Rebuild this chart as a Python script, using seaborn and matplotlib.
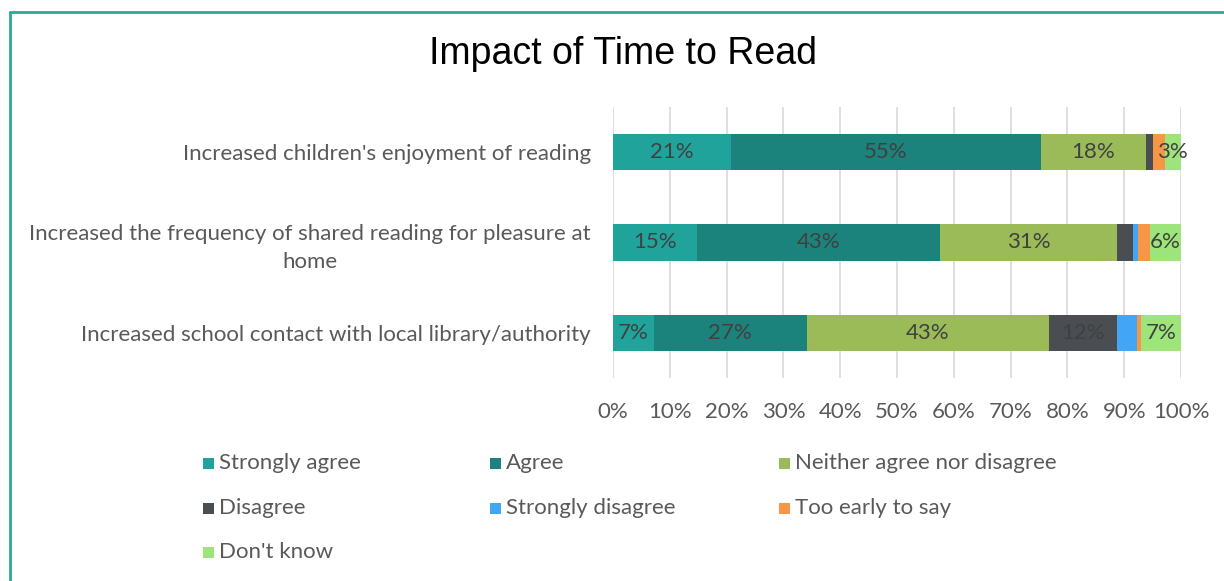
import numpy as np
import pandas as pd
import matplotlib
matplotlib.use("Agg")
import matplotlib.pyplot as plt
import seaborn as sns
from matplotlib.patches import Rectangle
from matplotlib.lines import Line2D

# survey statements (top to bottom)
statements = [
    "Increased children's enjoyment of reading",
    "Increased the frequency of shared reading for pleasure at\nhome",
    "Increased school contact with local library/authority",
]
responses = ["Strongly agree", "Agree", "Neither agree nor disagree", "Disagree",
             "Strongly disagree", "Too early to say", "Don't know"]

# percentages, one list per response
strongly_agree = [20.7, 14.8, 7.2]
agree = [54.6, 42.7, 26.9]
neither = [18.5, 31.3, 42.6]
disagree = [1.2, 2.8, 12.1]
strongly_disagree = [0.0, 0.8, 3.5]
too_early = [2.1, 2.1, 0.7]
dont_know = [2.9, 5.5, 7.0]

colors = ["#1fa39b", "#1b827c", "#9bbb59", "#4a4e53", "#42a5f5", "#f79646", "#9de47b"]
# which responses get a value label
labelled = ["Strongly agree", "Agree", "Neither agree nor disagree", "Disagree", "Don't know"]

series = [strongly_agree, agree, neither, disagree, strongly_disagree, too_early, dont_know]
df = pd.DataFrame(dict(zip(responses, series)), index=statements)
cum = df.cumsum(axis=1)

sns.set_theme(style="white")
plt.rcParams['font.family'] = ['Lato', 'DejaVu Sans']
text_col = "#595959"
fs = 16

fig = plt.figure(figsize=(12.24, 5.81), dpi=100)
ax = fig.add_axes([613 / 1224, 1 - 378 / 581, (1181 - 613) / 1224, (378 - 107) / 581])

# stacked bars: draw cumulative totals from the last response backwards
for resp, col in reversed(list(zip(responses, colors))):
    d = pd.DataFrame({"statement": statements, "value": cum[resp].values})
    sns.barplot(data=d, x="value", y="statement", orient="h", color=col,
                width=0.4, saturation=1, ax=ax, linewidth=0, zorder=2)

# value labels in the middle of each segment
for i, st in enumerate(statements):
    for resp in responses:
        v = df.loc[st, resp]
        if resp not in labelled:
            continue
        if resp != "Don't know" and v < 5:
            continue
        centre = cum.loc[st, resp] - v / 2
        ax.text(centre, i, f"{v:.0f}%", ha="center", va="center",
                fontsize=fs, color="#404040", zorder=3)

ax.set_xlim(0, 100)
ax.set_ylim(2.5, -0.5)
ax.set_xticks(np.arange(0, 101, 10))
ax.set_xticklabels([f"{t}%" for t in range(0, 101, 10)])
ax.grid(axis="x", color="#d9d9d9", linewidth=1.2, zorder=0)
ax.set_axisbelow(True)
for s in ax.spines.values():
    s.set_visible(False)
ax.tick_params(axis="x", length=0, pad=17, labelsize=fs, labelcolor=text_col)
ax.tick_params(axis="y", length=0, pad=16, labelsize=fs, labelcolor=text_col)
for lab in ax.get_yticklabels():
    lab.set_multialignment("center")
    lab.set_linespacing(1.45)
ax.set_xlabel("")
ax.set_ylabel("")

fig.text(623 / 1224, 1 - 54 / 581, "Impact of Time to Read", ha="center", va="center",
         fontsize=27, color="black", family=["Liberation Sans", "DejaVu Sans"])

# legend laid out as in the original (3 columns)
col_x = [203, 490, 779]
row_y = [463, 508, 552]
for k, (resp, col) in enumerate(zip(responses, colors)):
    x = col_x[k % 3]
    y = row_y[k // 3]
    fig.patches.append(Rectangle((x / 1224, 1 - (y + 6) / 581), 11 / 1224, 11 / 581,
                                 transform=fig.transFigure, color=col, linewidth=0))
    fig.text((x + 16) / 1224, 1 - y / 581, resp, ha="left", va="center",
             fontsize=fs, color=text_col)

# chart frame (left and top edges)
frame_col = "#2ea89a"
fig.add_artist(Line2D([9.5 / 1224, 9.5 / 1224], [0, 1 - 11.5 / 581],
                      transform=fig.transFigure, color=frame_col, linewidth=2))
fig.add_artist(Line2D([9.5 / 1224, 1], [1 - 11.5 / 581, 1 - 11.5 / 581],
                      transform=fig.transFigure, color=frame_col, linewidth=2))

fig.savefig("out.png", dpi=100, facecolor="white")
